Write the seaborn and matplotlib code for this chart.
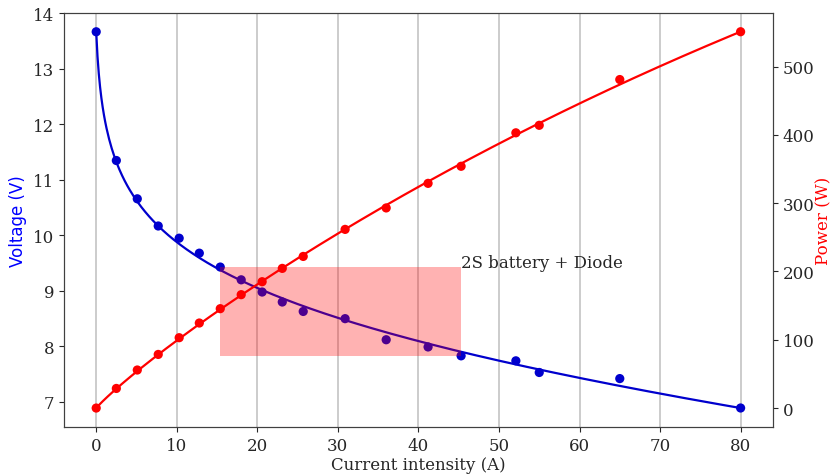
import numpy as np
import pandas as pd
import seaborn as sns
import matplotlib
matplotlib.use("Agg")
import matplotlib.pyplot as plt
from matplotlib.patches import Rectangle

current = [0.0, 2.5, 5.1, 7.7, 10.3, 12.8, 15.4, 18.0, 20.6, 23.1,
           25.7, 30.9, 36.0, 41.2, 45.3, 52.1, 55.0, 65.0, 80.0]
voltage = [13.67, 11.35, 10.66, 10.17, 9.95, 9.68, 9.43, 9.20, 8.98, 8.80,
           8.63, 8.50, 8.12, 7.99, 7.83, 7.74, 7.53, 7.42, 6.89]
power = [0.0, 28.7, 55.7, 78.5, 103.0, 124.5, 145.5, 166.0, 185.0, 204.5,
         222.0, 261.6, 293.0, 329.0, 354.0, 403.0, 414.0, 481.0, 551.0]
x_ticks = [0, 10, 20, 30, 40, 50, 60, 70, 80]
p_ticks = [0, 100, 200, 300, 400, 500]
label = "2S battery + Diode"

df = pd.DataFrame({"current": current, "voltage": voltage, "power": power})

sns.set_style("ticks", {"axes.edgecolor": ".25"})
plt.rcParams["font.family"] = "DejaVu Serif"
plt.rcParams["font.size"] = 12


def design(x):
    return np.column_stack([np.ones_like(x), np.log1p(x / 0.3), x])


# weighted least squares fit V = a + b*ln(1 + I/0.3) + c*I, endpoints anchored
I = df["current"].values
w = np.ones_like(I)
w[0] = w[-1] = 5.0
coef, *_ = np.linalg.lstsq(design(I) * w[:, None], df["voltage"].values * w, rcond=None)
i_fit = np.linspace(0, I.max(), 500)
v_fit = design(i_fit) @ coef
fit_df = pd.DataFrame({"current": i_fit, "voltage": v_fit, "power": i_fit * v_fit})

fig = plt.figure(figsize=(8.31, 4.77), dpi=100)
ax = fig.add_axes([0.077, 0.103, 0.853, 0.868])
ax2 = ax.twinx()

sns.lineplot(data=fit_df, x="current", y="voltage", ax=ax, color="mediumblue", lw=1.6)
sns.scatterplot(data=df, x="current", y="voltage", ax=ax, color="mediumblue",
                s=44, edgecolor="none", zorder=3)

# highlighted region between the 7th and 15th measurement
lo, hi = 6, 14
ax.add_patch(Rectangle((current[lo], voltage[hi]), current[hi] - current[lo],
                       voltage[lo] - voltage[hi], color="red", alpha=0.3, lw=0, zorder=4))
ax.text(current[hi], voltage[lo], label, fontsize=12)

sns.lineplot(data=fit_df, x="current", y="power", ax=ax2, color="red", lw=1.6)
sns.scatterplot(data=df, x="current", y="power", ax=ax2, color="red",
                s=44, edgecolor="none", zorder=3)

ax.set_xticks(x_ticks)
ax.grid(axis="x", color="#c4c4c4", lw=1.2)
ax.set_axisbelow(True)
ax.set_xlabel("Current intensity (A)", labelpad=2)
ax.set_ylabel("Voltage (V)", color="blue", family="DejaVu Sans")
ax2.set_ylabel("Power (W)", color="red", labelpad=1)
ax2.set_yticks(p_ticks)

fig.savefig("out.png", dpi=100)
